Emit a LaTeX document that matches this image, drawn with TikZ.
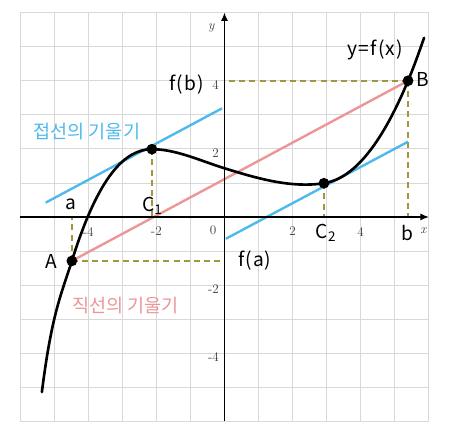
\documentclass[tikz,border=0pt]{standalone}
\usepackage{fontspec}
\newfontfamily\mano[LetterSpace=6]{Noto Sans CJK KR}
\newfontfamily\hangul{Noto Sans CJK KR}
\usetikzlibrary{arrows.meta}
\definecolor{griglia}{RGB}{216,216,216}
\definecolor{celeste}{RGB}{78,186,236}
\definecolor{rosa}{RGB}{236,150,150}
\definecolor{oliva}{RGB}{158,152,62}
\definecolor{numeri}{RGB}{60,60,60}

\begin{document}
\begin{tikzpicture}[x=1cm, y=1cm,
    asse/.style={line width=1.2pt, -{Latex[length=7pt,width=6pt]}},
    curva/.style={line width=2.2pt, line cap=round},
    tangente/.style={draw=celeste, line width=2pt},
    secante/.style={draw=rosa, line width=2pt},
    proiezione/.style={draw=oliva, line width=1.4pt, dash pattern=on 5pt off 3.5pt},
    punto/.style={circle, fill=black, inner sep=0pt, minimum size=9pt},
    scritta/.style={font=\mano\fontsize{16}{16}\selectfont},
    coreano/.style={font=\hangul\fontsize{15.5}{16}\selectfont},
    tacca/.style={font=\fontsize{11}{12}\selectfont, text=numeri, inner sep=1pt}]

  \useasboundingbox (-6.59,-6.56) rectangle (6.68,6.37);
  \draw[griglia, line width=.6pt] (-6,-6) grid (6,6);

  \coordinate (O)  at (0,0);
  \coordinate (A)  at (-4.48,-1.29);
  \coordinate (B)  at (5.39,4);
  \coordinate (C1) at (-2.13,1.99);
  \coordinate (C2) at (2.92,0.99);

  % proiezioni sugli assi
  \draw[proiezione] (A) -- (A |- O);
  \draw[proiezione] (A) -- (A -| O);
  \draw[proiezione] (B) -- (B |- O);
  \draw[proiezione] (B) -- (B -| O);
  \draw[proiezione] (C1) -- (C1 |- O);
  \draw[proiezione] (C2) -- (C2 |- O);

  % retta AB e tangenti parallele
  \draw[secante] (A) -- (B);
  \coordinate (t1s) at (-5.25,0.42);
  \coordinate (t1e) at (-0.07,3.19);
  \coordinate (t2s) at (0.04,-0.64);
  \coordinate (t2e) at (5.39,2.21);
  \draw[tangente] (t1s) -- (t1e);
  \draw[tangente] (t2s) -- (t2e);

  \draw[asse] (-6,0) -- (6,0);
  \draw[asse] (0,-6) -- (0,6);

  % y = f(x)
  \draw[curva] (-5.36,-5.14) .. controls (-5.067,-2.80) and (-4.773,-2.228) .. (A)
    .. controls (-3.697,1.217) and (-2.913,1.99) .. (C1)
    .. controls (-1.42,1.99) and (-0.71,1.65) .. (0,1.43)
    .. controls (0.973,1.128) and (1.947,0.844) .. (C2)
    .. controls (3.743,1.113) and (4.567,2.025) .. (B)
    .. controls (5.547,4.377) and (5.703,4.805) .. (5.86,5.26);

  \node[punto] (pA)  at (A)  {};
  \node[punto] (pB)  at (B)  {};
  \node[punto] (pC1) at (C1) {};
  \node[punto] (pC2) at (C2) {};

  % numeri sugli assi
  \foreach \x in {-4,-2,2,4} { \node[tacca] (tx\x) at (\x,-0.43) {\x}; }
  \foreach \y in {-4,-2,2,4} { \node[tacca, anchor=east] (ty\y) at (-0.12,\y-0.12) {\y}; }
  \node[tacca] (t0) at (-0.33,-0.40) {0};
  \node[tacca, font=\fontsize{11}{12}\selectfont\itshape] (lx) at (5.84,-0.40) {x};
  \node[tacca, font=\fontsize{11}{12}\selectfont\itshape] (ly) at (-0.39,5.55) {y};

  % scritte
  \node[scritta] (lf)  at (4.43,4.91)  {y=f(x)};
  \node[scritta] (lfb) at (-1.12,3.88) {f(b)};
  \node[scritta] (lfa) at (0.89,-1.29) {f(a)};
  \node[scritta] (la)  at (-4.5,0.36)  {a};
  \node[scritta] (lb)  at (5.37,-0.46) {b};
  \node[scritta] (lA)  at (-5.07,-1.31) {A};
  \node[scritta] (lB)  at (5.81,4.03)  {B};
  \node[scritta] (lC1) at (-2.12,0.33) {C\textsubscript{1}};
  \node[scritta] (lC2) at (2.98,-0.47) {C\textsubscript{2}};
  \node[coreano, text=celeste] (ltan) at (-4.04,2.51) {접선의 기울기};
  \node[coreano, text=rosa]    (lsec) at (-2.91,-2.59) {직선의 기울기};
\end{tikzpicture}
\end{document}
